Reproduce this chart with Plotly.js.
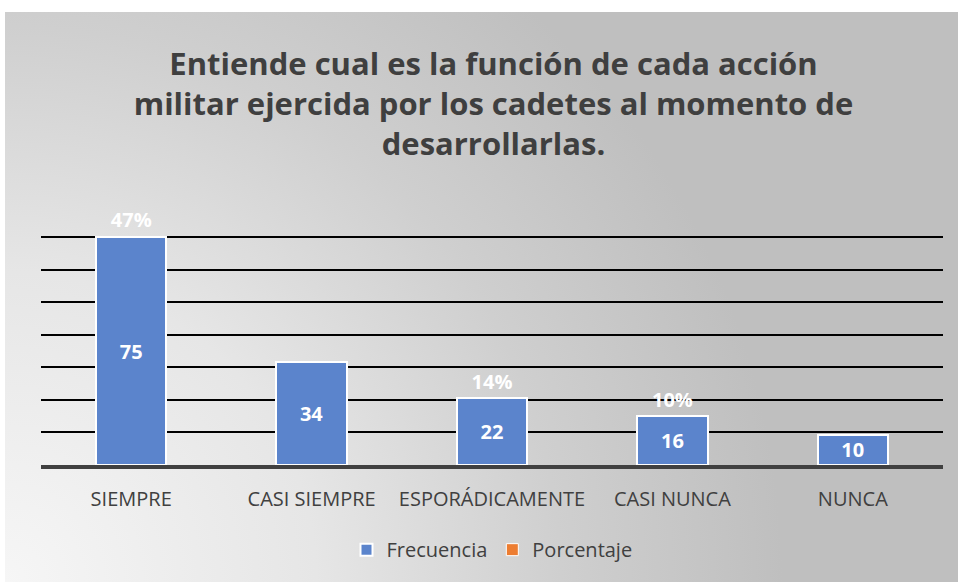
<!DOCTYPE html>
<html>
<head>
<meta charset="utf-8">
<script src="https://cdn.plot.ly/plotly-3.0.1.min.js"></script>
<style>
  html, body { margin: 0; padding: 0; background: #ffffff; width: 958px; height: 582px; overflow: hidden; }
  #chart {
    position: absolute; left: 5px; top: 12px; width: 953px; height: 570px;
    background: radial-gradient(circle at 0% 100%, #f6f6f6 0%, #e6e6e6 28%, #cfcfcf 50%, #bfbfbf 70%);
  }
</style>
</head>
<body>
<div id="chart"></div>
<script>
const categories = ["SIEMPRE", "CASI SIEMPRE", "ESPORÁDICAMENTE", "CASI NUNCA", "NUNCA"];
const frecuencia = [75, 34, 22, 16, 10];
const porcentaje = [0.47, 0.22, 0.14, 0.10, 0.06];
const porcentajeLabelShown = [true, false, true, true, false];

const titleText = "Entiende cual es la función de cada acción<br>militar ejercida por los cadetes al momento de<br>desarrollarlas.";
const font = "'Open Sans', Lato, sans-serif";

const pctText = porcentaje.map((p, i) => porcentajeLabelShown[i] ? Math.round(p * 100) + "%" : "");

const traces = [
  {
    type: "bar", name: "Frecuencia", x: categories, y: frecuencia,
    marker: { color: "#5b84cc", line: { color: "#ffffff", width: 2 } },
    text: frecuencia.map(String), textposition: "inside", insidetextanchor: "middle", textangle: 0,
    textfont: { color: "#ffffff", size: 20, family: font, weight: "bold" },
    constraintext: "none", hoverinfo: "x+y", showlegend: true
  },
  {
    type: "bar", name: "Porcentaje", x: categories, y: porcentaje,
    marker: { color: "rgba(0,0,0,0)", line: { width: 0 } },
    text: pctText, textposition: "outside", textangle: 0,
    textfont: { color: "#ffffff", size: 20, family: font, weight: "bold" },
    constraintext: "none", cliponaxis: false, showlegend: false
  },
  {
    type: "bar", name: "Porcentaje", x: [null], y: [null],
    marker: { color: "#ed7d31", line: { color: "#ffffff", width: 1 } },
    showlegend: true, hoverinfo: "skip"
  }
];

const layout = {
  width: 953, height: 570,
  paper_bgcolor: "rgba(0,0,0,0)", plot_bgcolor: "rgba(0,0,0,0)",
  margin: { l: 36, r: 15, t: 204, b: 117 },
  barmode: "stack", bargap: 0.61,
  font: { family: font, color: "#404040", size: 18 },
  title: {
    text: titleText, x: 0.5126, xref: "container", xanchor: "center",
    y: 0.89, yref: "container", yanchor: "top",
    font: { family: font, size: 31, color: "#3f3f3f", weight: "bold" }
  },
  xaxis: {
    showline: true, linecolor: "#404040", linewidth: 4,
    ticks: "", ticklabelstandoff: 13,
    tickfont: { family: font, size: 20, color: "#404040" },
    showgrid: false, fixedrange: true
  },
  yaxis: {
    range: [0, 82], tick0: 0, dtick: 75 / 7,
    showgrid: true, gridcolor: "#000000", gridwidth: 2,
    showticklabels: false, zeroline: false, showline: false, ticks: "",
    fixedrange: true
  },
  legend: {
    orientation: "h", x: 0.5, xanchor: "center", y: -0.34, yanchor: "middle",
    font: { family: font, size: 20, color: "#404040" },
    bgcolor: "rgba(0,0,0,0)", traceorder: "normal", itemwidth: 30
  },
  showlegend: true
};

Plotly.newPlot("chart", traces, layout, { displayModeBar: false, staticPlot: true });
</script>
</body>
</html>
